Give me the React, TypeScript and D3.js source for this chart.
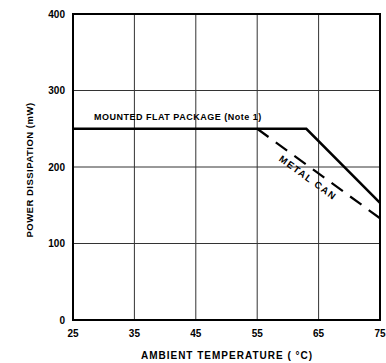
import React from "react";
import * as d3 from "d3";

const xTicks = [25, 35, 45, 55, 65, 75];
const yTicks = [0, 100, 200, 300, 400];
const flatTemp = [25, 63, 75];
const flatPower = [250, 250, 153];
const canTemp = [55, 75];
const canPower = [250, 133];

const W = 386;
const H = 363;
const m = { left: 73, right: 6, top: 14, bottom: 43 };

export default function App() {
  const x = d3.scaleLinear().domain([25, 75]).range([m.left, W - m.right]);
  const y = d3.scaleLinear().domain([0, 400]).range([H - m.bottom, m.top]);
  const line = d3
    .line<[number, number]>()
    .x((d) => x(d[0]))
    .y((d) => y(d[1]));
  const flat = flatTemp.map((t, i) => [t, flatPower[i]] as [number, number]);
  const can = canTemp.map((t, i) => [t, canPower[i]] as [number, number]);

  const x0 = x(canTemp[0]), y0 = y(canPower[0]);
  const x1 = x(canTemp[1]), y1 = y(canPower[1]);
  const rad = Math.atan2(y1 - y0, x1 - x0);
  const ang = (rad * 180) / Math.PI;
  const f = 0.46;
  const off = 13;
  const tx = x0 + (x1 - x0) * f - Math.sin(rad) * off;
  const ty = y0 + (y1 - y0) * f + Math.cos(rad) * off;

  const font = "'Liberation Sans', Arial, sans-serif";
  return (
    <svg
      width={W}
      height={H}
      style={{ position: "absolute", left: 0, top: 0, background: "#fff" }}
      fontFamily={font}
      fontWeight="bold"
    >
      {xTicks.slice(1, -1).map((t) => (
        <line key={"vx" + t} x1={x(t)} x2={x(t)} y1={y(400)} y2={y(0)} stroke="#333" strokeWidth={1} />
      ))}
      {yTicks.slice(1, -1).map((t) => (
        <line key={"hy" + t} x1={x(25)} x2={x(75)} y1={y(t)} y2={y(t)} stroke="#333" strokeWidth={1} />
      ))}
      <rect
        x={x(25)}
        y={y(400)}
        width={x(75) - x(25)}
        height={y(0) - y(400)}
        fill="none"
        stroke="#000"
        strokeWidth={2}
      />
      <path d={line(flat) || ""} fill="none" stroke="#000" strokeWidth={2.5} />
      <path d={line(can) || ""} fill="none" stroke="#000" strokeWidth={2.2} strokeDasharray="14 9" />
      {xTicks.map((t) => (
        <text key={"xt" + t} x={x(t)} y={337} textAnchor="middle" fontSize={10}>
          {t}
        </text>
      ))}
      {yTicks.map((t) => (
        <text key={"yt" + t} x={65} y={y(t) + 3.5} textAnchor="end" fontSize={10}>
          {t}
        </text>
      ))}
      <text x={227} y={359} textAnchor="middle" fontSize={10} letterSpacing={1.0}>
        AMBIENT TEMPERATURE ( °C)
      </text>
      <text
        transform={`translate(33,${170}) rotate(-90)`}
        textAnchor="middle"
        fontSize={9.5}
        letterSpacing={0.5}
      >
        POWER DISSIPATION (mW)
      </text>
      <text x={94} y={120} fontSize={9} letterSpacing={0.5}>
        MOUNTED FLAT PACKAGE (Note 1)
      </text>
      <text
        transform={`translate(${tx},${ty}) rotate(${ang})`}
        textAnchor="middle"
        fontSize={9.5}
        letterSpacing={1.5}
      >
        METAL CAN
      </text>
    </svg>
  );
}
